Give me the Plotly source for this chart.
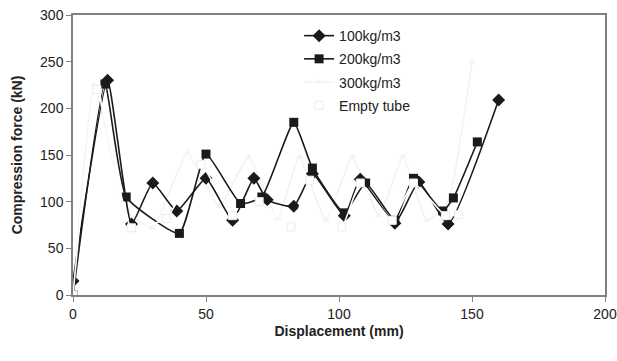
import plotly.graph_objects as go

x100 = [0, 13, 22, 30, 39, 50, 60, 68, 73, 83, 90, 102, 108, 121, 130, 141, 160]
y100 = [15, 230, 76, 120, 90, 125, 80, 125, 102, 95, 130, 85, 124, 77, 121, 76, 209]

x200 = [0, 12, 20, 40, 50, 63, 71, 83, 90, 102, 110, 121, 128, 139, 143, 152]
y200 = [0, 226, 105, 66, 151, 98, 105, 185, 136, 88, 120, 80, 125, 90, 104, 164]

x300 = [0, 8, 20, 30, 43, 55, 66, 77, 85, 95, 105, 115, 124, 133, 141, 150]
y300 = [0, 225, 90, 72, 152, 95, 148, 82, 148, 80, 148, 85, 148, 80, 100, 250]

xE = [0, 9, 22, 35, 48, 60, 70, 82, 89, 101, 108, 120, 128, 140, 145]
yE = [0, 220, 72, 82, 140, 85, 100, 73, 123, 73, 120, 80, 120, 85, 86]

names = ["100kg/m3", "200kg/m3", "300kg/m3", "Empty tube"]

fig = go.Figure()
fig.add_trace(go.Scatter(x=x300, y=y300, name=names[2], mode="lines+markers",
                         line=dict(color="#f2f2f2", width=1.5, shape="spline", smoothing=0.4),
                         marker=dict(symbol="triangle-up", size=7, color="#f4f4f4"),
                         legendgroup="c", legendrank=3))
fig.add_trace(go.Scatter(x=x100, y=y100, name=names[0], mode="lines+markers",
                         line=dict(color="#1a1a1a", width=1.6, shape="spline", smoothing=0.45),
                         marker=dict(symbol="diamond", size=10, color="#1a1a1a"),
                         legendgroup="a", legendrank=1))
fig.add_trace(go.Scatter(x=x200, y=y200, name=names[1], mode="lines+markers",
                         line=dict(color="#1a1a1a", width=1.6, shape="spline", smoothing=0.45),
                         marker=dict(symbol="square", size=9, color="#1a1a1a"),
                         legendgroup="b", legendrank=2))
fig.add_trace(go.Scatter(x=xE, y=yE, name=names[3], mode="lines+markers",
                         line=dict(color="#ffffff", width=1.6, shape="spline", smoothing=0.45),
                         marker=dict(symbol="square", size=8, color="#ffffff",
                                     line=dict(color="#ececec", width=1)),
                         legendgroup="d", legendrank=4))

axis_common = dict(showgrid=False, zeroline=False, showline=True, linecolor="#808080",
                   linewidth=1.5, mirror=True, ticks="outside", ticklen=5, automargin=False,
                   tickcolor="#808080", tickfont=dict(family="Arial, Liberation Sans", size=14, color="#222"))
fig.update_xaxes(range=[0, 200], dtick=50, **axis_common,
                 title=dict(text="<b>Displacement (mm)</b>", standoff=6,
                            font=dict(family="Arial, Liberation Sans", size=14, color="#222")))
fig.update_yaxes(range=[0, 300], dtick=50, **axis_common,
                 title=dict(text="<b>Compression force (kN)</b>", standoff=14,
                            font=dict(family="Arial, Liberation Sans", size=14, color="#222")))

fig.update_layout(width=617, height=361, margin=dict(l=73, r=12, t=15, b=66),
                  plot_bgcolor="white", paper_bgcolor="white",
                  legend=dict(x=0.425, y=0.982, xanchor="left", yanchor="top",
                              font=dict(family="Arial, Liberation Sans", size=14, color="#222"),
                              bgcolor="rgba(0,0,0,0)", tracegroupgap=2, itemwidth=30),
                  showlegend=True)
fig.write_html("out.html")
